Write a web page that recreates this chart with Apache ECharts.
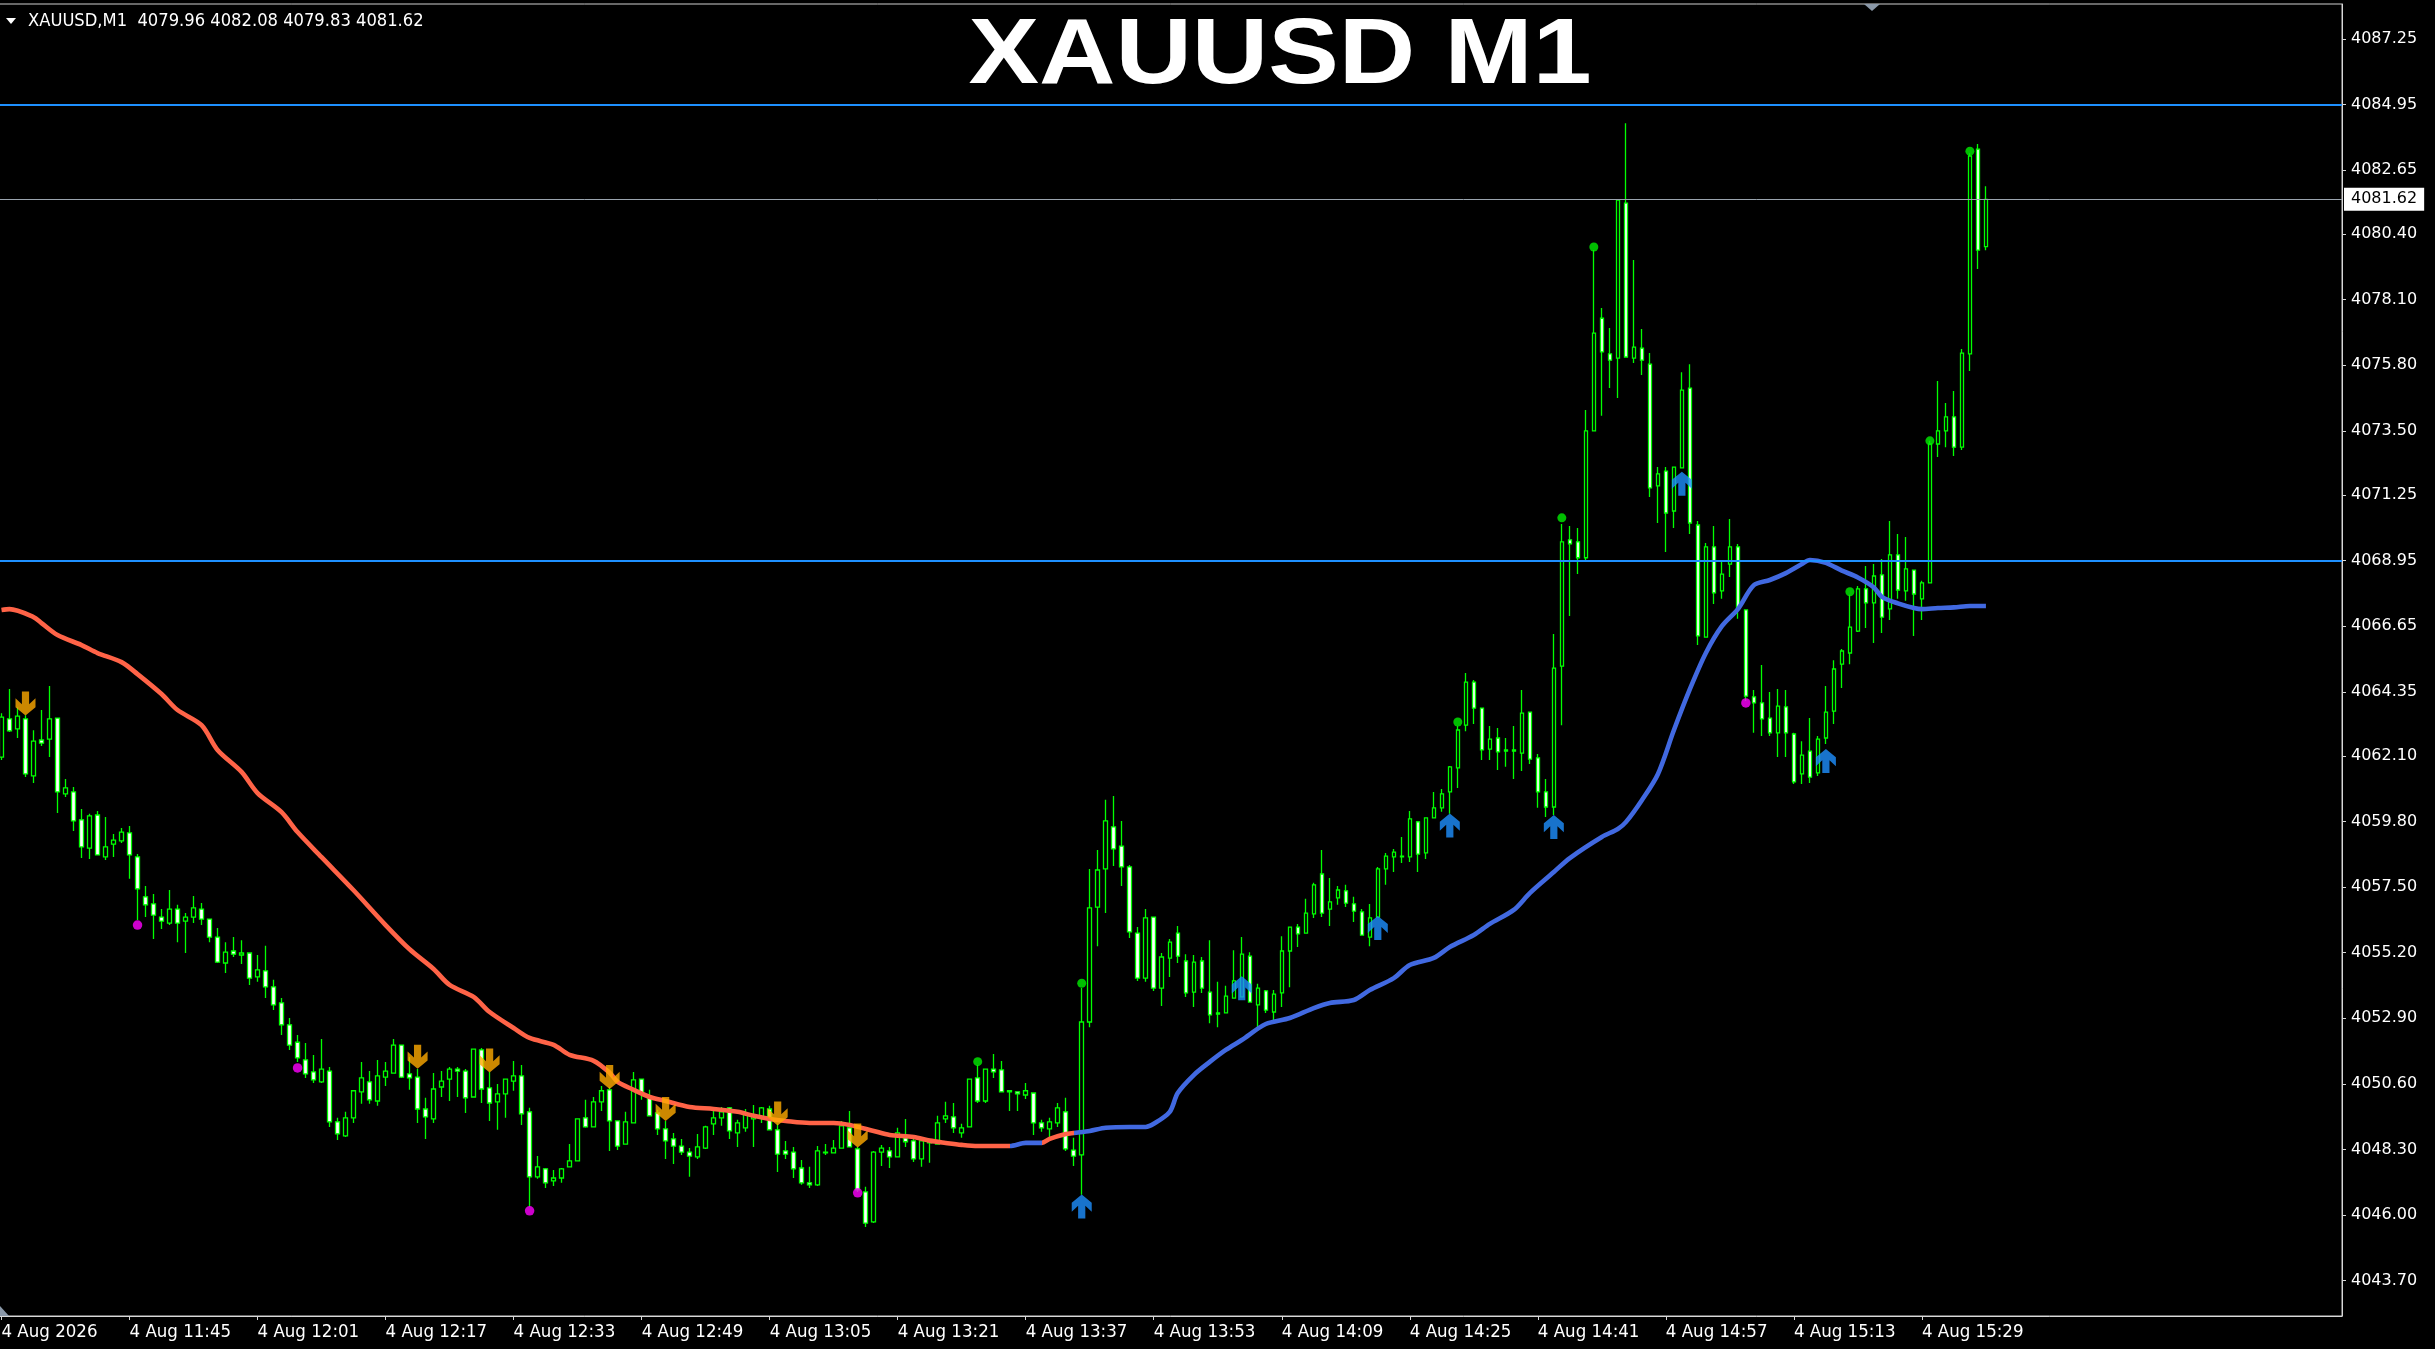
<!DOCTYPE html>
<html>
<head>
<meta charset="utf-8">
<script src="https://cdn.jsdelivr.net/npm/echarts@6/dist/echarts.min.js"></script>
<style>
html,body{margin:0;padding:0;background:#000;}
#chart{width:2435px;height:1349px;}
</style>
</head>
<body>
<div id="chart"></div>
<script>
// ---------- DATA ----------
const chartTitle = 'XAUUSD M1';
const headerText = 'XAUUSD,M1  4079.96 4082.08 4079.83 4081.62';
const firstBarMinute = 11 * 60 + 29;   // 4 Aug 11:29
const slotCount = 293;                 // bars + empty right margin

const xTickLabels = ['4 Aug 2026','4 Aug 11:45','4 Aug 12:01','4 Aug 12:17','4 Aug 12:33','4 Aug 12:49','4 Aug 13:05','4 Aug 13:21','4 Aug 13:37','4 Aug 13:53','4 Aug 14:09','4 Aug 14:25','4 Aug 14:41','4 Aug 14:57','4 Aug 15:13','4 Aug 15:29'];
const xTickStep = 16;

const yTickValues = [4087.25,4084.95,4082.65,4080.40,4078.10,4075.80,4073.50,4071.25,4068.95,4066.65,4064.35,4062.10,4059.80,4057.50,4055.20,4052.90,4050.60,4048.30,4046.00,4043.70];

const levelUpper = 4084.95;
const levelLower = 4068.95;
const lastPrice = 4081.62;

// [open, high, low, close] per one-minute bar
const ohlc = [
[4062.06,4063.60,4061.96,4063.46],[4063.40,4064.45,4062.94,4062.98],[4063.05,4063.81,4062.73,4063.50],[4063.40,4063.53,4061.36,4061.47],
[4061.40,4063.00,4061.15,4062.62],[4062.66,4063.71,4062.45,4062.55],[4062.69,4064.55,4062.06,4063.40],[4063.43,4063.43,4060.10,4060.84],
[4060.77,4061.29,4060.66,4060.98],[4060.84,4061.01,4059.47,4059.82],[4059.86,4060.24,4058.52,4058.91],[4058.87,4060.07,4058.49,4060.00],
[4060.03,4060.17,4058.63,4058.63],[4058.56,4059.96,4058.45,4058.91],[4059.01,4059.36,4058.56,4059.15],[4059.12,4059.57,4059.05,4059.43],
[4059.40,4059.64,4057.79,4058.63],[4058.56,4058.66,4056.35,4057.44],[4057.16,4057.54,4056.45,4056.88],[4056.91,4057.26,4055.68,4056.52],
[4056.45,4056.73,4056.03,4056.31],[4056.24,4057.40,4056.17,4056.73],[4056.73,4056.88,4055.57,4056.24],[4056.31,4056.59,4055.19,4056.45],
[4056.45,4057.19,4056.24,4056.77],[4056.73,4056.94,4056.17,4056.38],[4056.38,4056.38,4055.57,4055.75],[4055.75,4056.07,4054.84,4054.87],
[4054.84,4055.57,4054.49,4055.22],[4055.26,4055.75,4055.05,4055.15],[4055.12,4055.64,4054.80,4055.19],[4055.19,4055.19,4054.07,4054.31],
[4054.35,4055.12,4054.18,4054.60],[4054.56,4055.44,4053.61,4054.00],[4054.00,4054.25,4053.19,4053.37],[4053.44,4053.61,4052.31,4052.67],
[4052.67,4052.91,4051.79,4051.96],[4052.06,4052.31,4051.37,4051.51],[4051.44,4052.03,4050.81,4050.95],[4051.02,4051.61,4050.63,4050.74],
[4050.67,4052.17,4050.63,4051.12],[4051.05,4051.19,4049.09,4049.27],[4049.27,4049.41,4048.63,4048.85],[4048.78,4049.62,4048.74,4049.41],
[4049.41,4050.36,4049.23,4050.36],[4050.32,4051.37,4049.90,4050.81],[4050.67,4051.05,4049.90,4050.04],[4050.00,4051.44,4049.83,4050.88],
[4050.84,4051.37,4050.53,4051.05],[4050.98,4052.17,4050.98,4051.96],[4051.96,4051.96,4050.81,4050.84],[4050.95,4051.54,4050.39,4050.81],
[4050.84,4051.12,4049.23,4049.72],[4049.72,4050.11,4048.67,4049.44],[4049.37,4050.98,4049.23,4050.42],[4050.49,4051.05,4050.14,4050.70],
[4050.77,4051.19,4050.00,4051.12],[4051.12,4051.19,4050.14,4051.05],[4051.05,4051.12,4049.58,4050.11],[4050.14,4051.82,4050.14,4051.82],
[4051.79,4051.86,4049.93,4050.42],[4050.46,4051.02,4049.30,4049.93],[4049.97,4050.60,4048.99,4050.25],[4050.25,4050.77,4049.41,4050.77],
[4050.70,4051.40,4050.36,4050.88],[4050.88,4051.26,4049.16,4049.55],[4049.62,4049.76,4046.29,4047.34],[4047.34,4048.07,4047.27,4047.69],
[4047.62,4047.65,4046.95,4047.13],[4047.20,4047.58,4047.02,4047.30],[4047.30,4047.65,4047.13,4047.62],[4047.69,4048.49,4047.69,4047.90],
[4047.90,4049.37,4047.90,4049.37],[4049.41,4050.04,4049.06,4049.09],[4049.09,4050.14,4049.09,4049.97],[4049.97,4050.53,4049.65,4050.36],
[4050.39,4050.49,4048.25,4049.30],[4049.30,4049.30,4048.28,4048.42],[4048.49,4049.62,4048.49,4049.27],[4049.23,4051.02,4049.23,4050.74],
[4050.77,4050.77,4050.04,4050.25],[4050.11,4050.39,4049.48,4049.48],[4049.58,4049.69,4048.81,4049.02],[4049.02,4049.30,4047.97,4048.60],
[4048.67,4048.88,4047.79,4048.42],[4048.42,4048.67,4048.11,4048.21],[4048.21,4048.35,4047.34,4048.07],[4048.04,4048.84,4047.97,4048.39],
[4048.35,4049.13,4048.32,4049.09],[4049.20,4049.72,4048.81,4049.41],[4049.41,4049.79,4049.13,4049.62],[4049.76,4049.79,4048.67,4048.95],
[4048.88,4049.34,4048.39,4049.23],[4049.06,4049.72,4048.92,4049.58],[4049.37,4049.86,4048.39,4049.51],[4049.44,4049.79,4049.23,4049.76],
[4049.72,4049.83,4048.99,4048.99],[4048.99,4049.20,4047.51,4048.14],[4048.25,4048.60,4047.97,4048.14],[4048.21,4048.39,4047.30,4047.62],
[4047.65,4047.93,4047.06,4047.13],[4047.13,4047.69,4046.95,4047.06],[4047.06,4048.42,4047.02,4048.25],[4048.18,4048.49,4048.11,4048.21],
[4048.18,4048.63,4048.18,4048.35],[4048.35,4049.30,4048.35,4049.13],[4049.06,4049.65,4048.39,4048.39],[4048.32,4048.39,4046.81,4046.88],
[4046.81,4046.99,4045.58,4045.72],[4045.76,4048.25,4045.72,4048.21],[4048.21,4048.46,4047.72,4048.35],[4048.25,4048.39,4047.65,4048.04],
[4048.04,4049.06,4048.04,4048.88],[4048.71,4049.37,4048.39,4048.57],[4048.60,4048.67,4047.86,4047.97],[4047.97,4048.67,4047.69,4048.60],
[4048.53,4048.63,4047.83,4048.63],[4048.49,4049.48,4048.49,4049.23],[4049.37,4049.97,4049.23,4049.48],[4049.44,4049.93,4048.88,4049.06],
[4048.88,4049.20,4048.71,4049.06],[4049.09,4050.77,4049.09,4050.77],[4050.81,4051.26,4049.93,4050.00],[4050.00,4051.12,4049.93,4051.12],
[4051.12,4051.65,4050.81,4051.02],[4051.09,4051.40,4050.32,4050.32],[4050.36,4050.36,4049.65,4050.32],[4050.32,4050.32,4049.65,4050.25],
[4050.21,4050.63,4050.07,4050.36],[4050.28,4050.28,4048.81,4049.23],[4049.23,4049.34,4048.92,4049.06],[4049.02,4049.41,4048.71,4049.27],
[4049.23,4049.93,4049.09,4049.76],[4049.62,4050.11,4048.25,4048.32],[4048.28,4048.71,4047.72,4048.07],[4048.11,4053.96,4046.71,4052.77],
[4052.77,4058.14,4052.59,4056.77],[4056.80,4058.80,4055.43,4058.10],[4058.14,4060.56,4056.59,4059.82],[4059.61,4060.70,4058.24,4058.84],
[4058.94,4059.82,4057.54,4058.21],[4058.21,4058.28,4055.72,4055.93],[4055.89,4056.10,4054.21,4054.31],[4054.31,4056.73,4054.18,4056.42],
[4056.45,4056.45,4053.86,4053.96],[4053.96,4055.19,4053.33,4055.05],[4055.01,4055.68,4054.35,4055.57],[4055.89,4056.14,4054.84,4055.08],
[4054.91,4055.15,4053.65,4053.79],[4053.82,4055.12,4053.30,4054.87],[4054.91,4055.05,4053.79,4053.96],[4053.82,4055.64,4052.73,4053.02],
[4053.05,4054.18,4052.59,4053.09],[4053.09,4054.04,4053.09,4053.68],[4053.61,4055.29,4053.61,4054.21],[4053.65,4055.75,4053.65,4055.15],
[4055.08,4055.22,4053.47,4053.47],[4053.37,4054.11,4052.49,4053.96],[4053.86,4053.89,4053.09,4053.19],[4053.12,4053.89,4052.84,4053.75],
[4053.79,4055.78,4053.30,4055.26],[4055.26,4056.10,4053.99,4056.10],[4056.10,4056.21,4055.40,4055.86],[4055.89,4057.09,4055.89,4056.59],
[4056.56,4057.65,4056.42,4057.58],[4057.96,4058.80,4056.45,4056.59],[4056.73,4057.82,4056.14,4056.98],[4057.12,4057.54,4056.88,4057.40],
[4057.37,4057.58,4056.80,4056.94],[4056.91,4057.16,4056.28,4056.66],[4056.63,4056.73,4055.82,4055.82],[4055.75,4056.91,4055.43,4056.42],
[4056.45,4058.21,4056.45,4058.14],[4058.14,4058.70,4057.58,4058.59],[4058.56,4058.84,4058.03,4058.73],[4058.56,4059.26,4058.35,4058.59],
[4058.56,4060.17,4058.38,4059.89],[4059.79,4059.82,4058.03,4058.66],[4058.70,4059.93,4058.49,4059.93],[4059.93,4060.84,4059.93,4060.28],
[4060.28,4060.94,4060.14,4060.77],[4060.84,4061.75,4060.07,4061.72],[4061.68,4063.15,4060.98,4063.01],[4063.18,4065.01,4062.97,4064.69],
[4064.69,4064.76,4063.22,4063.78],[4063.78,4063.78,4061.96,4062.31],[4062.34,4063.15,4061.96,4062.69],[4062.73,4063.08,4061.61,4062.24],
[4062.27,4062.73,4061.72,4062.31],[4062.27,4063.15,4061.29,4062.31],[4062.20,4064.41,4061.57,4063.60],[4063.64,4063.64,4061.82,4061.99],
[4062.03,4062.17,4060.28,4060.84],[4060.84,4061.29,4059.96,4060.31],[4060.31,4066.38,4060.03,4065.18],[4065.25,4070.23,4063.18,4069.61],
[4069.68,4070.16,4067.01,4069.54],[4069.61,4070.09,4068.48,4069.05],[4069.05,4074.23,4068.94,4073.50],[4073.50,4079.84,4073.50,4076.93],
[4077.45,4077.81,4074.03,4076.27],[4076.20,4077.11,4075.00,4075.98],[4076.05,4081.59,4074.65,4081.59],[4081.49,4084.29,4076.09,4076.09],
[4076.05,4079.49,4075.88,4076.44],[4076.40,4077.07,4075.46,4075.98],[4075.84,4076.23,4071.18,4071.50],[4071.57,4072.23,4070.27,4071.99],
[4072.09,4072.23,4069.25,4070.62],[4070.69,4072.23,4070.09,4072.23],[4072.20,4075.56,4072.20,4074.93],[4075.00,4075.84,4069.88,4070.27],
[4070.20,4070.34,4065.99,4066.31],[4066.27,4069.57,4066.27,4069.43],[4069.43,4070.16,4067.43,4067.82],[4067.89,4068.97,4067.61,4068.48],
[4068.83,4070.41,4068.38,4069.43],[4069.43,4069.53,4066.91,4067.26],[4067.22,4067.22,4064.03,4064.20],[4064.17,4064.41,4062.91,4063.96],
[4063.96,4065.29,4062.80,4063.40],[4063.43,4064.34,4062.80,4062.91],[4062.91,4064.45,4062.06,4063.85],[4063.82,4064.41,4062.06,4062.91],
[4062.87,4062.91,4061.12,4061.19],[4061.47,4062.62,4061.12,4062.13],[4062.27,4063.43,4061.15,4061.36],[4061.51,4062.80,4061.40,4062.69],
[4062.73,4064.55,4062.52,4063.64],[4063.67,4065.46,4063.22,4065.15],[4065.32,4065.85,4064.48,4065.78],[4065.71,4067.75,4065.32,4066.62],
[4066.48,4068.06,4066.45,4067.96],[4067.96,4068.76,4066.59,4067.47],[4067.47,4068.83,4066.06,4068.41],[4068.45,4069.01,4066.41,4066.97],
[4067.26,4070.34,4066.87,4069.15],[4069.15,4069.88,4067.61,4067.92],[4067.89,4069.78,4067.54,4068.66],[4068.62,4068.62,4066.31,4067.78],
[4067.61,4068.24,4066.87,4068.17],[4068.17,4073.15,4068.17,4073.04],[4073.04,4075.25,4072.58,4073.50],[4073.50,4074.48,4072.93,4073.99],
[4073.99,4074.90,4072.62,4072.93],[4072.93,4076.37,4072.83,4076.23],[4076.20,4083.24,4075.60,4083.14],[4083.38,4083.56,4079.18,4079.84],
[4079.96,4082.08,4079.83,4081.62]
];

// moving average, read at sampled bars: [barIndex, value]
const maPoints = [
[0,4067.22],[1,4067.25],[4,4066.97],[5,4066.76],[7,4066.34],[10,4065.99],[12,4065.71],[15,4065.39],[17,4064.97],[20,4064.27],
[22,4063.71],[25,4063.18],[27,4062.31],[30,4061.54],[32,4060.80],[35,4060.13],[37,4059.43],[40,4058.55],[44,4057.39],[48,4056.17],
[51,4055.32],[54,4054.63],[56,4054.07],[59,4053.65],[61,4053.12],[64,4052.56],[66,4052.21],[69,4051.97],[71,4051.62],[74,4051.41],
[76,4050.99],[77,4050.67],[79,4050.39],[81,4050.14],[83,4050.00],[86,4049.79],[89,4049.72],[92,4049.62],[94,4049.48],[96,4049.37],
[98,4049.30],[101,4049.23],[104,4049.23],[106,4049.16],[109,4048.95],[111,4048.81],[114,4048.74],[116,4048.61],[118,4048.53],[120,4048.46],
[122,4048.42],[126,4048.42],[128,4048.53],[130,4048.53],[131,4048.67],[133,4048.84],[134,4048.88],[136,4048.95],[138,4049.06],[141,4049.09],
[143,4049.09],[144,4049.20],[146,4049.62],[147,4050.28],[149,4050.91],[151,4051.37],[153,4051.79],[155,4052.14],[158,4052.70],[161,4052.91],
[164,4053.26],[166,4053.44],[169,4053.54],[171,4053.89],[174,4054.31],[176,4054.77],[179,4055.02],[181,4055.40],[184,4055.82],[186,4056.21],
[189,4056.70],[191,4057.29],[194,4058.03],[196,4058.52],[200,4059.26],[202,4059.54],[203,4059.78],[205,4060.55],[207,4061.46],[209,4063.00],
[211,4064.44],[213,4065.71],[215,4066.65],[217,4067.25],[219,4068.09],[221,4068.27],[223,4068.51],[225,4068.83],[226,4068.97],[228,4068.87],
[230,4068.60],[232,4068.36],[234,4068.01],[235,4067.68],[237,4067.45],[239,4067.29],[240,4067.25],[242,4067.29],[244,4067.31],[246,4067.36],
[248,4067.36]
];
// bar ranges where the MA is drawn red (falling state); elsewhere blue
const maRedRanges = [[0,126],[130,134]];

const sellArrows = [[3,4063.94],[52,4051.55],[61,4051.42],[76,4050.84],[83,4049.72],[97,4049.56],[107,4048.79]];
const buyArrows  = [[135,4046.30],[155,4053.95],[172,4056.07],[181,4059.66],[194,4059.61],[210,4071.65],[228,4061.92]];
const lowDots    = [[17,4056.17],[37,4051.16],[66,4046.15],[107,4046.78],[218,4063.96]];
const highDots   = [[122,4051.38],[135,4054.13],[182,4063.29],[195,4070.45],[199,4079.95],[231,4067.86],[241,4073.15],[246,4083.31]];

// ---------- BUILD ----------
const categories = [];
for (let i = 0; i < slotCount; i++) {
  const m = firstBarMinute + i;
  categories.push(String(Math.floor(m / 60)).padStart(2, '0') + ':' + String(m % 60).padStart(2, '0'));
}
const candles = ohlc.map(d => [d[0], d[3], d[2], d[1]]);
const lastBar = ohlc.length - 1;
const showTick = (idx) => idx % xTickStep === 0 && idx <= lastBar;

const RED = '#FF6347', BLUE = '#4169E1', GREEN = '#00ff00';
const pieces = [];
let cursor = 0;
maRedRanges.forEach(r => {
  if (r[0] > cursor) pieces.push({ gte: cursor, lt: r[0], color: BLUE });
  pieces.push({ gte: r[0], lt: r[1], color: RED });
  cursor = r[1];
});
pieces.push({ gte: cursor, color: BLUE });
pieces[0].gte = -1000;

const arrowDown = 'path://M3.2,0 L6.8,0 L6.8,6.4 L10,3.4 L10,7.9 L5,12 L0,7.9 L0,3.4 L3.2,6.4 Z';
const arrowUp = 'path://M3.2,12 L6.8,12 L6.8,5.6 L10,8.6 L10,4.1 L5,0 L0,4.1 L0,8.6 L3.2,5.6 Z';

const uiFont = '"DejaVu Sans Condensed", "Noto Sans", sans-serif';

const chart = echarts.init(document.getElementById('chart'), null, { renderer: 'canvas' });
chart.setOption({
  backgroundColor: '#000000',
  animation: false,
  grid: {
    left: -2.5, right: 93, top: 4, bottom: 33,
    containLabel: false, outerBoundsMode: 'none',
    show: true, borderColor: '#cfcfcf', borderWidth: 1, backgroundColor: '#000000'
  },
  xAxis: {
    type: 'category',
    data: categories,
    boundaryGap: true,
    axisLine: { show: true, lineStyle: { color: '#d8d8d8', width: 1 } },
    axisTick: { show: true, alignWithLabel: true, interval: showTick, length: 4, lineStyle: { color: '#d8d8d8' } },
    axisLabel: {
      interval: showTick,
      formatter: (v, idx) => xTickLabels[idx / xTickStep] || '',
      align: 'left', color: '#ffffff', fontSize: 18.5, fontFamily: uiFont, margin: 7
    },
    splitLine: { show: false }
  },
  yAxis: {
    type: 'value',
    position: 'right',
    min: 4042.46, max: 4088.47,
    axisLine: { show: true, lineStyle: { color: '#d8d8d8', width: 1 } },
    axisTick: { show: true, customValues: yTickValues, length: 4, lineStyle: { color: '#d8d8d8' } },
    axisLabel: {
      customValues: yTickValues,
      formatter: v => Number(v).toFixed(2),
      color: '#ffffff', fontSize: 16, fontFamily: '"DejaVu Sans", sans-serif', margin: 9
    },
    splitLine: { show: false }
  },
  visualMap: {
    show: false, type: 'piecewise', seriesIndex: 1, dimension: 0, pieces: pieces
  },
  series: [
    {
      type: 'candlestick',
      data: candles,
      barWidth: 4,
      z: 2,
      itemStyle: { color: '#000000', color0: '#ffffff', borderColor: GREEN, borderColor0: GREEN, borderWidth: 1.3 },
      markLine: {
        silent: true, symbol: ['none', 'none'], animation: false,
        data: [
          { yAxis: levelUpper, lineStyle: { color: '#1E90FF', width: 2, type: 'solid' }, label: { show: false } },
          { yAxis: levelLower, lineStyle: { color: '#1E90FF', width: 2, type: 'solid' }, label: { show: false } },
          { yAxis: lastPrice, lineStyle: { color: '#9aa4ae', width: 1, type: 'solid' },
            label: { show: true, position: 'end', formatter: lastPrice.toFixed(2), backgroundColor: '#ffffff', color: '#000000',
                     fontSize: 16, fontFamily: '"DejaVu Sans", sans-serif', padding: [4, 7, 3, 7], distance: 2 } }
        ]
      }
    },
    {
      type: 'line',
      data: maPoints,
      smooth: 0.3,
      showSymbol: false,
      symbol: 'none',
      z: 3,
      lineStyle: { width: 4.6 }
    },
    {
      type: 'scatter', data: sellArrows, symbol: arrowDown, symbolSize: [20, 24], z: 4,
      itemStyle: { color: '#FFAA00' }
    },
    {
      type: 'scatter', data: buyArrows, symbol: arrowUp, symbolSize: [20, 24], z: 4,
      itemStyle: { color: '#1E90FF' }
    },
    {
      type: 'scatter', data: lowDots, symbol: 'circle', symbolSize: 9.5, z: 4,
      itemStyle: { color: '#ff00ff' }
    },
    {
      type: 'scatter', data: highDots, symbol: 'circle', symbolSize: 9, z: 4,
      itemStyle: { color: '#00ee00' }
    }
  ],
  graphic: [
    { type: 'polygon', shape: { points: [[6, 18], [16, 18], [11, 24]] }, style: { fill: '#ffffff' }, silent: true },
    { type: 'text', x: 28, y: 21, silent: true,
      style: { text: headerText, fill: '#ffffff', font: '18.2px ' + uiFont, verticalAlign: 'middle', align: 'left' } },
    { type: 'text', x: 1280, y: 58, scaleX: 1.15, silent: true,
      style: { text: chartTitle, fill: '#ffffff', font: 'bold 92px "Liberation Sans", Arial, sans-serif', align: 'center', verticalAlign: 'middle' } },
    { type: 'polygon', shape: { points: [[1864, 4], [1880, 4], [1872, 11]] }, style: { fill: '#8a98a8' }, silent: true },
    { type: 'polygon', shape: { points: [[0, 1306], [0, 1316], [9, 1316]] }, style: { fill: '#8a98a8' }, silent: true }
  ]
});
</script>
</body>
</html>
